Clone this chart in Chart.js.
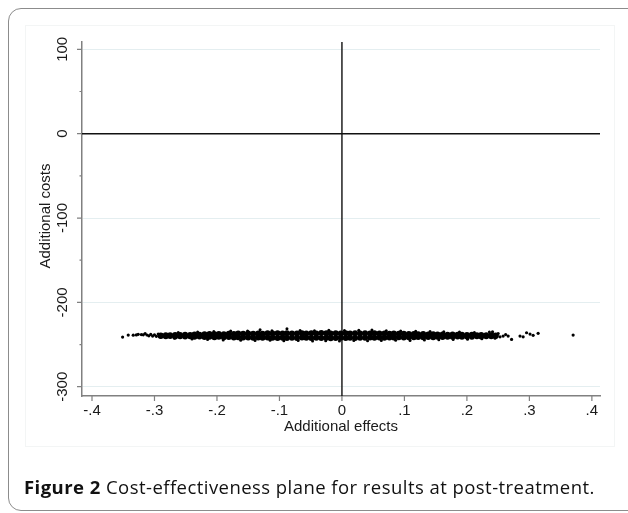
<!DOCTYPE html>
<html>
<head>
<meta charset="utf-8">
<script src="https://cdn.jsdelivr.net/npm/chart.js@4.4.1/dist/chart.umd.min.js"></script>
<style>
  html, body { margin: 0; padding: 0; background: #fff; }
  #wrap { position: relative; width: 628px; height: 513px; overflow: hidden; }
  #frame { position: absolute; left: 8px; top: 8px; width: 640px; height: 503px;
           border: 1.5px solid #8c8c8c; border-radius: 13px; box-sizing: border-box; }
  #inner { position: absolute; left: 25px; top: 25px; width: 590px; height: 422px;
           border: 1px solid #f3f5f5; box-sizing: border-box; }
  #chart { position: absolute; left: 0; top: 0; }
  #caption { position: absolute; left: 24px; top: 474px; font-family: "Open Sans", sans-serif;
             font-size: 18.5px; letter-spacing: 0.45px; color: #111; white-space: nowrap; }
  #caption b { font-weight: 700; }
</style>
</head>
<body>
<div id="wrap">
  <div id="frame"></div>
  <div id="inner"></div>
  <canvas id="chart" width="628" height="513"></canvas>
  <div id="caption"><b>Figure 2</b> Cost-effectiveness plane for results at post-treatment.</div>
</div>
<script>
// ── DATI ─────────────────────────────────────────────────
const xTicks      = [-0.4, -0.3, -0.2, -0.1, 0, 0.1, 0.2, 0.3, 0.4];
const xTickLabels = ['-.4', '-.3', '-.2', '-.1', '0', '.1', '.2', '.3', '.4'];
const yTicks      = [-300, -200, -100, 0, 100];
const yTickLabels = ['-300', '-200', '-100', '0', '100'];
const yMinorTicks = [-250, -150, -50, 50];

// nucleo della nuvola: x comuni, bordo alto e bordo basso
const coreX = [
  -0.290, -0.282, -0.275, -0.267, -0.259, -0.251, -0.243, -0.236, -0.228, -0.220,
  -0.212, -0.204, -0.197, -0.189, -0.181, -0.173, -0.166, -0.158, -0.150, -0.142,
  -0.134, -0.127, -0.119, -0.111, -0.103, -0.095, -0.088, -0.080, -0.072, -0.064,
  -0.057, -0.049, -0.041, -0.033, -0.025, -0.018, -0.010, -0.002,  0.006,  0.013,
   0.021,  0.029,  0.037,  0.045,  0.052,  0.060,  0.068,  0.076,  0.083,  0.091,
   0.099,  0.107,  0.115,  0.122,  0.130,  0.138,  0.146,  0.153,  0.161,  0.169,
   0.177,  0.185,  0.192,  0.200,  0.208,  0.216,  0.223,  0.231,  0.239,  0.246
];
const coreTop = [
  -239.2, -238.9, -239.1, -238.6, -238.8, -238.4, -238.6, -238.1, -238.3, -237.9,
  -237.6, -237.9, -237.4, -237.7, -237.2, -237.5, -237.0, -237.3, -236.9, -237.2,
  -236.8, -237.1, -236.7, -237.0, -236.6, -236.9, -236.5, -236.8, -237.0, -236.6,
  -236.9, -236.5, -236.8, -236.4, -236.7, -236.9, -236.5, -236.8, -236.6, -236.9,
  -236.7, -237.0, -236.6, -236.9, -236.7, -237.0, -236.8, -237.1, -236.9, -237.2,
  -237.3, -237.6, -237.4, -237.8, -237.6, -238.0, -237.8, -238.2, -238.0, -238.3,
  -238.1, -238.5, -238.3, -238.7, -238.5, -238.9, -238.7, -239.1, -238.9, -239.3
];
const coreBottom = [
  -239.9, -240.1, -240.0, -240.4, -240.2, -240.6, -240.3, -240.8, -240.5, -241.0,
  -240.8, -241.2, -240.9, -241.4, -241.1, -241.6, -241.3, -241.7, -241.5, -241.9,
  -241.6, -242.0, -241.7, -241.9, -242.1, -241.8, -242.2, -241.9, -242.1, -241.7,
  -242.0, -242.3, -241.9, -242.2, -242.0, -242.4, -242.1, -241.9, -242.2, -242.0,
  -242.1, -241.8, -242.0, -241.7, -241.9, -241.6, -241.8, -241.5, -241.7, -241.4,
  -241.5, -241.2, -241.4, -241.1, -241.3, -241.0, -241.2, -240.8, -241.0, -240.7,
  -240.9, -240.6, -240.8, -240.5, -240.7, -240.3, -240.5, -240.1, -240.3, -239.9
];

// punti sparsi sui bordi della nuvola
const edgePoints = [
  [-0.262, -235.8], [-0.231, -235.0], [-0.205, -234.6], [-0.178, -234.0], [-0.151, -233.8],
  [-0.131, -232.4], [-0.112, -233.5], [-0.088, -231.4], [-0.067, -233.2], [-0.044, -233.6],
  [-0.021, -232.9], [0.004, -233.4], [0.027, -233.1], [0.048, -232.8], [0.071, -233.5],
  [0.094, -233.9], [0.118, -234.2], [0.141, -234.5], [0.163, -234.8], [0.188, -235.2],
  [0.212, -235.6], [0.236, -235.0],
  [-0.268, -242.6], [-0.240, -243.4], [-0.215, -244.1], [-0.190, -244.5], [-0.162, -245.0],
  [-0.139, -245.3], [-0.115, -244.9], [-0.093, -245.6], [-0.070, -245.2], [-0.047, -245.8],
  [-0.026, -245.4], [-0.004, -245.7], [0.019, -245.3], [0.041, -245.6], [0.063, -245.1],
  [0.086, -244.8], [0.109, -245.2], [0.132, -244.6], [0.155, -244.3], [0.178, -243.9],
  [0.201, -243.6], [0.224, -243.0], [0.245, -242.4]
];

// code sinistra e destra
const leftTail = [
  [-0.351, -241.1], [-0.342, -238.8], [-0.334, -238.9], [-0.329, -238.6], [-0.326, -237.9],
  [-0.321, -238.2], [-0.318, -238.5], [-0.315, -237.0], [-0.312, -238.7], [-0.309, -239.6],
  [-0.306, -238.0], [-0.303, -239.9], [-0.300, -238.4], [-0.297, -240.2], [-0.294, -237.6]
];
const rightTail = [
  [0.241, -234.9], [0.2475, -238.8], [0.250, -237.0], [0.253, -240.8], [0.258, -240.0],
  [0.262, -238.2], [0.266, -240.0], [0.2715, -243.9], [0.285, -240.0], [0.290, -240.8],
  [0.2955, -236.0], [0.301, -237.6], [0.306, -239.1], [0.314, -236.7], [0.370, -238.8]
];

const FONT = '"Liberation Sans", Arial, sans-serif';
const INK  = '#1a1a1a';
const AXIS = '#808080';

function pairs(list) { return list.map(p => ({ x: p[0], y: p[1] })); }

// ── PLUGIN: linee di riferimento, tacche ed etichette ─────
const stataAxes = {
  id: 'stataAxes',
  beforeDatasetsDraw(chart) {
    const { ctx, chartArea: a, scales: { x, y } } = chart;
    ctx.save();
    ctx.strokeStyle = '#111';
    ctx.lineWidth = 1.4;
    const x0 = x.getPixelForValue(0), y0 = y.getPixelForValue(0);
    ctx.beginPath();
    ctx.moveTo(a.left, y0); ctx.lineTo(a.right, y0);
    ctx.moveTo(x0, a.top);  ctx.lineTo(x0, a.bottom);
    ctx.stroke();
    ctx.restore();
  },
  afterDraw(chart) {
    const { ctx, chartArea: a, scales: { x, y } } = chart;
    ctx.save();
    ctx.strokeStyle = AXIS;
    ctx.lineWidth = 1.2;
    ctx.beginPath();
    yTicks.forEach(v => { const p = y.getPixelForValue(v); ctx.moveTo(a.left, p); ctx.lineTo(a.left - 5, p); });
    yMinorTicks.forEach(v => { const p = y.getPixelForValue(v); ctx.moveTo(a.left, p); ctx.lineTo(a.left - 2.5, p); });
    xTicks.forEach(v => { const p = x.getPixelForValue(v); ctx.moveTo(p, a.bottom); ctx.lineTo(p, a.bottom + 5); });
    ctx.stroke();

    ctx.fillStyle = INK;
    ctx.font = '15px ' + FONT;
    ctx.textAlign = 'center';
    ctx.textBaseline = 'middle';
    yTicks.forEach((v, i) => {
      ctx.save();
      ctx.translate(a.left - 19, y.getPixelForValue(v));
      ctx.rotate(-Math.PI / 2);
      ctx.fillText(yTickLabels[i], 0, 0);
      ctx.restore();
    });
    xTicks.forEach((v, i) => {
      ctx.fillText(xTickLabels[i], x.getPixelForValue(v), a.bottom + 15);
    });

    ctx.fillText('Additional effects', (a.left + a.right) / 2, a.bottom + 31);
    ctx.save();
    ctx.translate(a.left - 36, (a.top + a.bottom) / 2 - 3);
    ctx.rotate(-Math.PI / 2);
    ctx.fillText('Additional costs', 0, 0);
    ctx.restore();
    ctx.restore();
  }
};

const dot = { backgroundColor: '#000', borderWidth: 0, pointHoverRadius: 0 };

new Chart(document.getElementById('chart').getContext('2d'), {
  type: 'scatter',
  data: {
    datasets: [
      { ...dot, label: 'core-top',    data: coreX.map((v, i) => ({ x: v, y: coreTop[i] })),    pointRadius: 3 },
      { ...dot, label: 'core-bottom', data: coreX.map((v, i) => ({ x: v, y: coreBottom[i] })), pointRadius: 3 },
      { ...dot, label: 'edges',       data: pairs(edgePoints), pointRadius: 1.5 },
      { ...dot, label: 'left',        data: pairs(leftTail),   pointRadius: 1.6 },
      { ...dot, label: 'right',       data: pairs(rightTail),  pointRadius: 1.6 }
    ]
  },
  options: {
    responsive: false,
    animation: false,
    events: [],
    layout: { padding: { left: 0, top: 42, right: 28, bottom: 77 } },
    plugins: { legend: { display: false }, tooltip: { enabled: false } },
    scales: {
      x: {
        type: 'linear',
        min: -0.416, max: 0.413,
        ticks: { display: false },
        grid: { display: false },
        border: { display: true, color: AXIS, width: 1.5 },
        afterFit: s => { s.height = 40; }
      },
      y: {
        type: 'linear',
        min: -311, max: 108.7,
        afterBuildTicks: s => { s.ticks = yTicks.map(v => ({ value: v })); },
        ticks: { display: false },
        grid: { color: '#e4eef0', lineWidth: 1, drawTicks: false },
        border: { display: true, color: AXIS, width: 1.5 },
        afterFit: s => { s.width = 82; }
      }
    }
  },
  plugins: [stataAxes]
});
</script>
</body>
</html>
